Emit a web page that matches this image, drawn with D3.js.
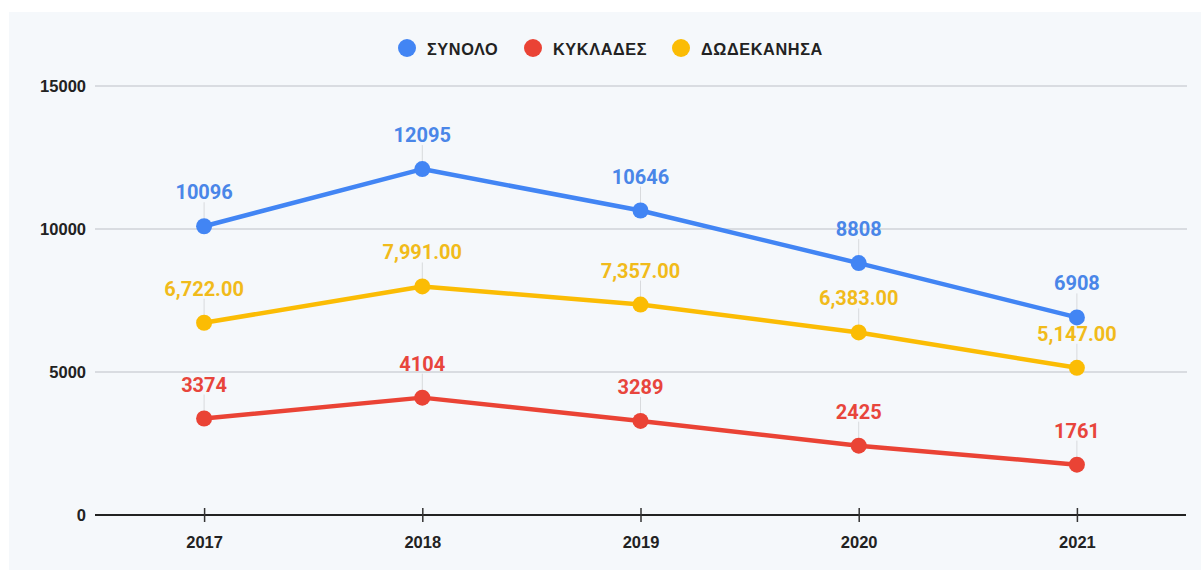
<!DOCTYPE html>
<html>
<head>
<meta charset="utf-8">
<script src="https://cdn.jsdelivr.net/npm/d3@7"></script>
<style>
  html, body { margin: 0; padding: 0; background: #ffffff; }
  svg { display: block; }
</style>
</head>
<body>
<svg id="chart" width="1201" height="570"></svg>
<script>
const years = ["2017", "2018", "2019", "2020", "2021"];
const seriesNames = ["ΣΥΝΟΛΟ", "ΚΥΚΛΑΔΕΣ", "ΔΩΔΕΚΑΝΗΣΑ"];
const synolo = [10096, 12095, 10646, 8808, 6908];
const kyklades = [3374, 4104, 3289, 2425, 1761];
const dodekanisa = [6722, 7991, 7357, 6383, 5147];
const yTicks = [0, 5000, 10000, 15000];
const colors = ["#4285F4", "#EA4335", "#FBBC04"];
const labelColors = ["#4a86e8", "#e8453c", "#f1bb1b"];
const labelFormats = [d3.format("d"), d3.format("d"), d3.format(",.2f")];

(function () {
const series = [synolo, kyklades, dodekanisa].map((vals, i) => ({
  name: seriesNames[i], values: vals, color: colors[i], labelColor: labelColors[i], fmt: labelFormats[i]
}));

const svg = d3.select("#chart");
svg.append("rect").attr("x", 9).attr("y", 12).attr("width", 1192).attr("height", 558).attr("fill", "#f5f8fb");

const mLeft = 95, mRight = 1186, mTop = 86, mBottom = 515;
const x = d3.scalePoint().domain(years).range([mLeft, mRight]).padding(0.5);
const y = d3.scaleLinear().domain([0, 15000]).range([mBottom, mTop]);

const axisFont = "Arial, 'Liberation Sans', sans-serif";

// gridlines
svg.append("g").selectAll("line").data(yTicks.filter(t => t > 0)).join("line")
  .attr("x1", mLeft).attr("x2", mRight + 1)
  .attr("y1", d => y(d)).attr("y2", d => y(d))
  .attr("stroke", "#cfd3d8").attr("stroke-width", 1.5);

// y axis labels
const yAxis = d3.axisLeft(y).tickValues(yTicks).tickSize(0).tickPadding(9).tickFormat(d3.format("d"));
const gy = svg.append("g").attr("transform", `translate(${mLeft},0)`).call(yAxis);
gy.select(".domain").remove();
gy.selectAll("text").attr("font-family", axisFont)
  .attr("font-weight", "bold").attr("font-size", 16.5).attr("fill", "#222");

// x axis
const xAxis = d3.axisBottom(x).tickSize(7).tickSizeOuter(0).tickPadding(14);
const gx = svg.append("g").attr("transform", `translate(0,${mBottom})`).call(xAxis);
gx.select(".domain").attr("d", `M${mLeft},0H${mRight}`).attr("stroke", "#222").attr("stroke-width", 2);
gx.selectAll(".tick line").attr("y1", -7).attr("y2", 7).attr("stroke", "#333").attr("stroke-width", 1.5);
gx.selectAll("text").attr("font-family", axisFont)
  .attr("font-weight", "bold").attr("font-size", 16.5).attr("fill", "#222");

// leader lines
series.forEach(s => {
  svg.append("g").selectAll("line").data(s.values).join("line")
    .attr("x1", (d, i) => x(years[i])).attr("x2", (d, i) => x(years[i]))
    .attr("y1", d => y(d)).attr("y2", d => y(d) - 24)
    .attr("stroke", "#d8dadd").attr("stroke-width", 1);
});

const line = d3.line().x((d, i) => x(years[i])).y(d => y(d));
series.forEach(s => {
  svg.append("path").datum(s.values).attr("d", line)
    .attr("fill", "none").attr("stroke", s.color).attr("stroke-width", 4.5)
    .attr("stroke-linejoin", "round");
  svg.append("g").selectAll("circle").data(s.values).join("circle")
    .attr("cx", (d, i) => x(years[i])).attr("cy", d => y(d)).attr("r", 8)
    .attr("fill", s.color);
  svg.append("g").selectAll("text").data(s.values).join("text")
    .attr("x", (d, i) => x(years[i])).attr("y", d => y(d) - 27)
    .attr("text-anchor", "middle")
    .attr("font-family", "Roboto, sans-serif").attr("font-weight", "bold").attr("font-size", 20)
    .attr("fill", s.labelColor)
    .text(d => s.fmt(d));
});

// legend
const legendX = [407, 533, 681];
const lg = svg.append("g");
series.forEach((s, i) => {
  lg.append("circle").attr("cx", legendX[i]).attr("cy", 48).attr("r", 9).attr("fill", s.color);
  lg.append("text").attr("x", legendX[i] + 20).attr("y", 55)
    .attr("font-family", axisFont).attr("font-weight", "bold")
    .attr("font-size", 16.3).attr("letter-spacing", 0.6).attr("fill", "#222").text(s.name);
});
})();
</script>
</body>
</html>
